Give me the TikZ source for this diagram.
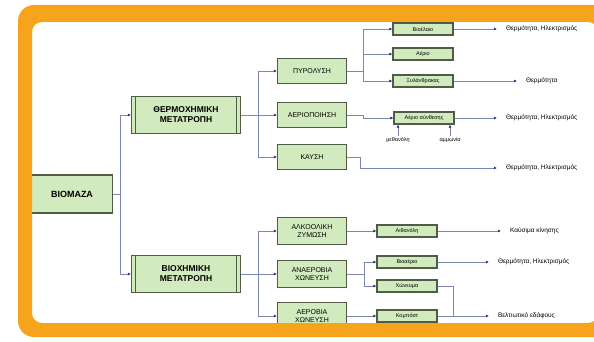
\documentclass[tikz,border=0pt]{standalone}
\usepackage{fontspec}
\setmainfont{Liberation Sans}
\usetikzlibrary{arrows.meta}
\definecolor{frameorange}{RGB}{246,164,28}
\definecolor{boxgreen}{RGB}{210,235,190}
\definecolor{boxedge}{RGB}{80,92,70}
\definecolor{linkblue}{RGB}{125,135,180}
\definecolor{tipblue}{RGB}{40,50,125}

\begin{document}
\begin{tikzpicture}[x=1pt, y=-1pt,
    mainbox/.style={draw=boxedge, line width=1.3pt, fill=boxgreen, align=center,
        font=\fontsize{8.5}{10}\selectfont\bfseries, minimum width=109pt, minimum height=37pt, inner sep=0pt},
    procbox/.style={draw=boxedge, line width=1.2pt, fill=boxgreen, align=center,
        font=\fontsize{7}{7.5}\selectfont, minimum width=69pt, minimum height=25pt, inner sep=0pt},
    prodbox/.style={draw=boxedge, line width=1.2pt, fill=boxgreen, align=center,
        font=\fontsize{5.5}{6}\selectfont, minimum width=60pt, minimum height=12pt, inner sep=0pt},
    usetext/.style={anchor=west, font=\fontsize{6.5}{7}\selectfont, inner sep=0pt, outer xsep=9pt},
    sidetext/.style={font=\fontsize{5.5}{6}\selectfont, inner sep=1pt},
    link/.style={draw=linkblue, line width=0.8pt, -{Latex[length=3pt,width=3pt,color=tipblue]}},
    plain/.style={draw=linkblue, line width=0.8pt}]
    \clip (0,0) rectangle (594,342);
    \useasboundingbox (0,0) rectangle (594,342);

    \node[mainbox, minimum width=81pt, minimum height=38pt, font=\fontsize{9}{10}\selectfont\bfseries] (biomass) at (72,194) {ΒΙΟΜΑΖΑ};
    \node[mainbox] (thermo) at (186,115) {ΘΕΡΜΟΧΗΜΙΚΗ\\ΜΕΤΑΤΡΟΠΗ};
    \node[mainbox] (bio) at (186,274) {ΒΙΟΧΗΜΙΚΗ\\ΜΕΤΑΤΡΟΠΗ};
    \foreach \b in {thermo,bio} {
        \draw[boxedge, line width=0.8pt] ([xshift=5pt]\b.north west) -- ([xshift=5pt]\b.south west);
        \draw[boxedge, line width=0.8pt] ([xshift=-5pt]\b.north east) -- ([xshift=-5pt]\b.south east);
    }

    \node[procbox] (pyro) at (312,71) {ΠΥΡΟΛΥΣΗ};
    \node[procbox] (gasif) at (312,115) {ΑΕΡΙΟΠΟΙΗΣΗ};
    \node[procbox] (burn) at (312,157) {ΚΑΥΣΗ};
    \node[procbox, minimum height=27pt] (alcf) at (312,231) {ΑΛΚΟΟΛΙΚΗ\\ΖΥΜΩΣΗ};
    \node[procbox, minimum height=27pt] (anaer) at (312,274) {ΑΝΑΕΡΟΒΙΑ\\ΧΩΝΕΥΣΗ};
    \node[procbox, minimum height=27pt] (aerob) at (312,316) {ΑΕΡΟΒΙΑ\\ΧΩΝΕΥΣΗ};

    \node[prodbox] (oil) at (423,29) {Βιοέλαιο};
    \node[prodbox] (gas) at (423,54) {Αέριο};
    \node[prodbox] (char) at (423,81) {Ξυλάνθρακας};
    \node[prodbox] (syngas) at (424,118) {Αέριο σύνθεσης};
    \node[prodbox] (ethanol) at (407,231) {Αιθανόλη};
    \node[prodbox] (biogas) at (407,262) {Βιοαέριο};
    \node[prodbox] (digest) at (407,286) {Χώνευμα};
    \node[prodbox] (compost) at (407,316) {Κομπόστ};

    \node[sidetext] (meth) at (398,140) {μεθανόλη};
    \node[sidetext] (amm) at (450,140) {αμμωνία};

    \node[usetext] (use1) at (497,29) {Θερμότητα, Ηλεκτρισμός};
    \node[usetext] (use2) at (517,81) {Θερμότητα};
    \node[usetext] (use3) at (497,118) {Θερμότητα, Ηλεκτρισμός};
    \node[usetext] (use4) at (497,168) {Θερμότητα, Ηλεκτρισμός};
    \node[usetext] (use5) at (501,231) {Καύσιμα κίνησης};
    \node[usetext] (use6) at (489,262) {Θερμότητα, Ηλεκτρισμός};
    \node[usetext] (use7) at (489,316) {Βελτιωτικό εδάφους};

    \draw[plain] (biomass.east) -- ++(7,0) coordinate (j0);
    \draw[link] (j0) |- (thermo.west);
    \draw[link] (j0) |- (bio.west);

    \draw[plain] (thermo.east) -- ++(17,0) coordinate (j1);
    \foreach \n in {pyro,gasif,burn}
        \draw[link] (j1) |- (\n.west);
    \draw[plain] (pyro.east) -- ++(16,0) coordinate (j2);
    \foreach \n in {oil,gas,char}
        \draw[link] (j2) |- (\n.west);
    \draw[link] (gasif.east) -- ++(16,0) |- (syngas.west);
    \draw[link] (burn.east) -- ++(13,0) |- (use4.west);
    \draw[link] (oil.east) -- (use1.west);
    \draw[link] (char.east) -- (use2.west);
    \draw[link] (syngas.east) -- (use3.west);
    \draw[link] (meth.north) -- (meth.north |- syngas.south);
    \draw[link] (amm.north) -- (amm.north |- syngas.south);

    \draw[plain] (bio.east) -- ++(17,0) coordinate (j3);
    \foreach \n in {alcf,anaer,aerob}
        \draw[link] (j3) |- (\n.west);
    \draw[link] (alcf.east) -- (ethanol.west);
    \draw[plain] (anaer.east) -- ++(17,0) coordinate (j4);
    \draw[link] (j4) |- (biogas.west);
    \draw[link] (j4) |- (digest.west);
    \draw[link] (aerob.east) -- (compost.west);
    \draw[link] (ethanol.east) -- (use5.west);
    \draw[link] (biogas.east) -- (use6.west);
    \draw[plain] (digest.east) -- ++(16,0) |- (compost.east);
    \draw[link] (compost.east) -- (use7.west);

    \fill[frameorange, even odd rule] [rounded corners=16pt] (18,5) rectangle (640,337)
        [rounded corners=10pt] (32,22) rectangle (598,323);
\end{tikzpicture}
\end{document}
